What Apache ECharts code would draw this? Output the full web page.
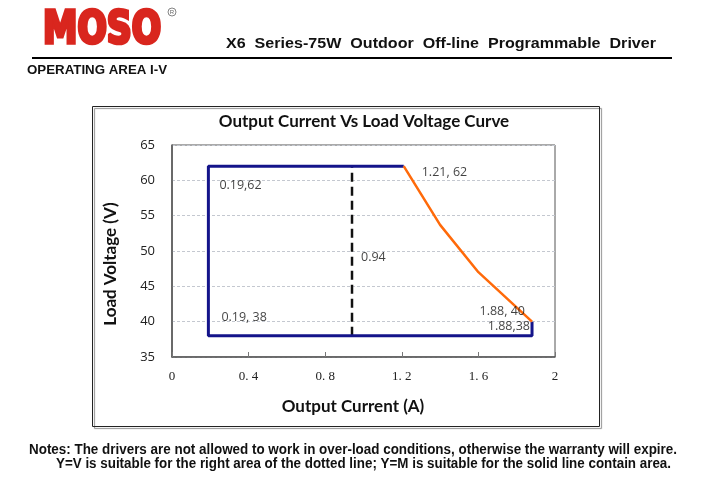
<!DOCTYPE html>
<html><head><meta charset="utf-8">
<script src="https://cdn.jsdelivr.net/npm/echarts@6/dist/echarts.min.js"></script>
<style>html,body{margin:0;padding:0;background:#fff}#c{width:715px;height:485px}</style>
</head><body><div id="c"></div>
<script>
// ---- data ----
const blueX = [1.21, 0.19, 0.19, 1.88, 1.88];
const blueY = [62, 62, 38, 38, 40];
const orangeX = [1.21, 1.40, 1.60, 1.88];
const orangeY = [62, 53.7, 47.0, 40];
const dashX = [0.94, 0.94];
const dashY = [38, 62];
const annoX = [0.19, 1.21, 0.94, 0.19, 1.88, 1.88];
const annoY = [62, 62, 50, 38, 40, 38];
const annoText = ['0.19,62', '1.21, 62', '0.94', '0.19, 38', '1.88, 40', '1.88,38'];
const xMin = 0, xMax = 2, xStep = 0.4;
const yMin = 35, yMax = 65, yStep = 5;
// label placement (style only)
const annoOffset = [[11, 19], [18, 6], [9, 6], [13, -18], [-7, -10], [-2, -9]];
const annoAlign = ['left', 'left', 'left', 'left', 'right', 'right'];

const zip = (a, b) => a.map((v, i) => [v, b[i]]);

const ctx = document.createElement('canvas').getContext('2d');
function scaleFor(text, font, width) { ctx.font = font; return width / ctx.measureText(text).width; }

const chart = echarts.init(document.getElementById('c'), null, {renderer: 'canvas'});

const notes1 = 'Notes: The drivers are not allowed to work in over-load conditions, otherwise the warranty will expire.';
const notes2 = 'Y=V is suitable for the right area of the dotted line; Y=M is suitable for the solid line contain area.';
const nFont = 'bold 14px "Liberation Sans"';
const hdr = 'X6  Series-75W  Outdoor  Off-line  Programmable  Driver';
const hFont = 'bold 15px "Liberation Sans"';
const opFont = 'bold 13px "Liberation Sans"';
const logoFont = 'bold 44px "DejaVu Sans Condensed"';

chart.setOption({
  backgroundColor: '#fff',
  animation: false,
  grid: {left: 172, right: 160, top: 145, bottom: 128, show: true, borderColor: '#555', borderWidth: 1},
  xAxis: {
    type: 'value', min: xMin, max: xMax, interval: xStep,
    axisLine: {show: true, lineStyle: {color: '#555', width: 1.5}},
    axisTick: {show: true, inside: true, length: 5, lineStyle: {color: '#777'}},
    splitLine: {show: false},
    axisLabel: {
      margin: 13, color: '#222', fontFamily: '"Liberation Serif", "DejaVu Serif"', fontSize: 13,
      formatter: v => (Number.isInteger(v) ? String(v) : v.toFixed(1).replace('.', '. '))
    }
  },
  yAxis: {
    type: 'value', min: yMin, max: yMax, interval: yStep,
    axisLine: {show: true, lineStyle: {color: '#555', width: 1.5}},
    axisTick: {show: false},
    splitLine: {show: true, lineStyle: {color: '#c4c8d0', type: [3, 2], width: 1}},
    axisLabel: {margin: 17, color: '#222', fontFamily: '"Open Sans"', fontSize: 13}
  },
  series: [
    {type: 'line', data: zip(blueX, blueY), symbol: 'none', lineStyle: {color: '#14148a', width: 3}, z: 3},
    {type: 'line', data: zip(orangeX, orangeY), symbol: 'none', lineStyle: {color: '#ff6a0a', width: 2.5}, z: 4},
    {type: 'line', data: zip(dashX, dashY), symbol: 'none', lineStyle: {color: '#111', width: 2.5, type: [9, 5]}, z: 2},
    {
      type: 'scatter', symbolSize: 0, z: 5,
      data: annoX.map((x, i) => ({
        value: [x, annoY[i]],
        label: {show: true, position: 'inside', formatter: annoText[i], offset: annoOffset[i], align: annoAlign[i],
          verticalAlign: 'middle', color: '#111', fontFamily: '"Open Sans"', fontSize: 12.5}
      }))
    }
  ],
  graphic: [
    // chart frame
    {type: 'rect', shape: {x: 92.5, y: 106.5, width: 507, height: 320},
      style: {fill: 'none', stroke: '#222', lineWidth: 1, shadowColor: 'rgba(0,0,0,0.45)', shadowOffsetX: 2, shadowOffsetY: 2, shadowBlur: 1}, z: 0},
    {type: 'text', x: 364, y: 122, style: {text: 'Output Current Vs Load Voltage Curve', font: 'bold 17px Lato', fill: '#111', align: 'center', verticalAlign: 'middle'}},
    {type: 'text', x: 353, y: 407, style: {text: 'Output Current (A)', font: 'bold 17px Lato', fill: '#111', align: 'center', verticalAlign: 'middle'}},
    {type: 'text', x: 111, y: 264, rotation: Math.PI / 2, style: {text: 'Load Voltage (V)', font: 'bold 17px Lato', fill: '#111', align: 'center', verticalAlign: 'middle'}},
    // header
    {type: 'text', x: 43, y: 31, scaleX: scaleFor('MOSO', logoFont, 118), scaleY: 1.02,
      style: {text: 'MOSO', font: logoFont, fill: '#d9261e', stroke: '#d9261e', lineWidth: 3.5, align: 'left', verticalAlign: 'middle'}},
    {type: 'circle', shape: {cx: 172, cy: 12, r: 4}, style: {fill: 'none', stroke: '#666', lineWidth: 0.8}},
    {type: 'text', x: 172, y: 12.5, style: {text: 'R', font: '6px "Liberation Sans"', fill: '#666', align: 'center', verticalAlign: 'middle'}},
    {type: 'text', x: 226, y: 44, scaleX: scaleFor(hdr, hFont, 430),
      style: {text: hdr, font: hFont, fill: '#111', align: 'left', verticalAlign: 'middle'}},
    {type: 'rect', shape: {x: 32, y: 57, width: 640, height: 2}, style: {fill: '#000'}},
    {type: 'text', x: 27, y: 70, scaleX: scaleFor('OPERATING AREA I-V', opFont, 140),
      style: {text: 'OPERATING AREA I-V', font: opFont, fill: '#111', align: 'left', verticalAlign: 'middle'}},
    // notes
    {type: 'text', x: 29, y: 450, scaleX: scaleFor(notes1, nFont, 648),
      style: {text: notes1, font: nFont, fill: '#111', align: 'left', verticalAlign: 'middle'}},
    {type: 'text', x: 56, y: 464, scaleX: scaleFor(notes2, nFont, 615),
      style: {text: notes2, font: nFont, fill: '#111', align: 'left', verticalAlign: 'middle'}}
  ]
});
</script></body></html>
